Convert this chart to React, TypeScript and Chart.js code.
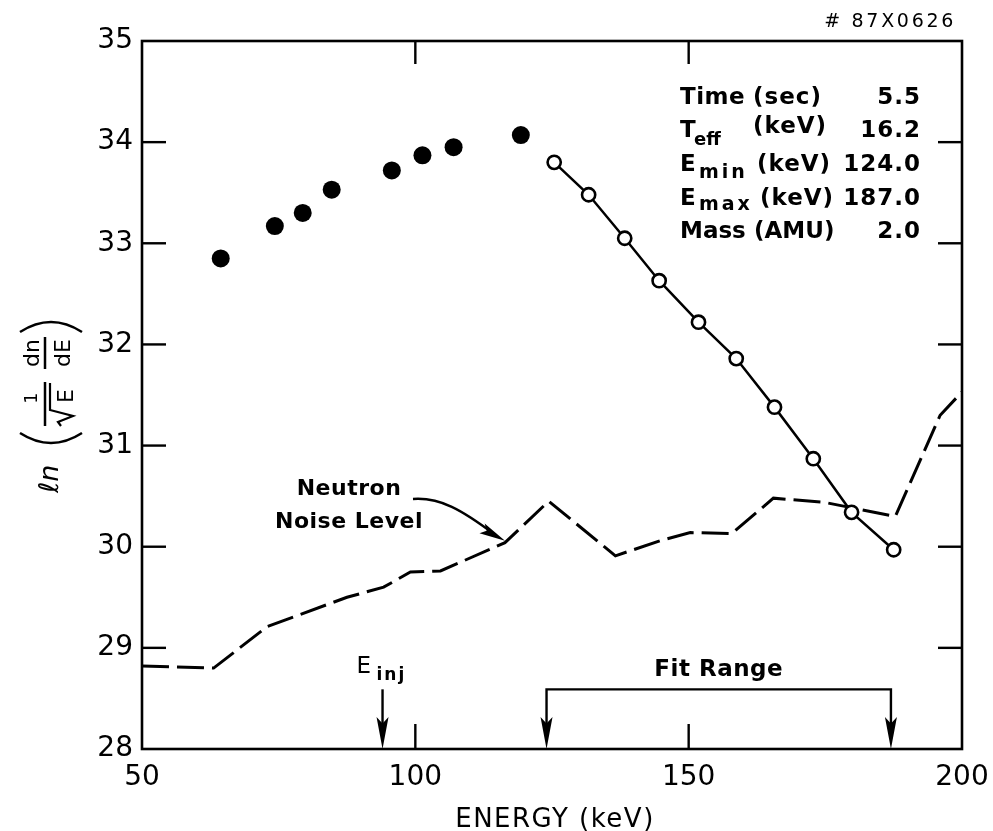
import React, { useEffect, useRef } from "react";
import { Chart, registerables } from "chart.js";

Chart.register(...registerables);

const FONT = '"DejaVu Sans", "Liberation Sans", sans-serif';

// Spectrum points below the fit range (filled circles)
const lowEnergyKeV = [64.4, 74.3, 79.4, 84.7, 95.7, 101.3, 107.0, 119.3];
const lowLnF = [32.85, 33.17, 33.3, 33.53, 33.72, 33.87, 33.95, 34.07];

// Spectrum points inside the fit range (open circles joined by the fit)
const fitEnergyKeV = [125.4, 131.7, 138.3, 144.6, 151.8, 158.7, 165.7, 172.8, 179.8, 187.5];
const fitLnF = [33.8, 33.48, 33.05, 32.63, 32.22, 31.86, 31.38, 30.87, 30.34, 29.97];

// Neutron noise level (dashed)
const noiseEnergyKeV = [50, 63.1, 72.9, 87.5, 94.2, 99.1, 104.6, 116.4, 124.4, 136.6, 144.8, 150.3, 157.9, 165.5, 174.7, 187.8, 196.0, 200];
const noiseLnF = [28.82, 28.8, 29.21, 29.5, 29.6, 29.75, 29.76, 30.04, 30.45, 29.91, 30.06, 30.14, 30.13, 30.48, 30.44, 30.3, 31.3, 31.53];

// Axis ticks
const xTickValues = [50, 100, 150, 200];
const yTickValues = [28, 29, 30, 31, 32, 33, 34, 35];

// Fit summary block
const infoNames = ["Time", "T", "E", "E", "Mass"];
const infoSubs = ["", "eff", "min", "max", ""];
const infoUnits = ["(sec)", "(keV)", "(keV)", "(keV)", "(AMU)"];
const infoValues = [5.5, 16.2, 124.0, 187.0, 2.0];

const E_MIN = infoValues[2];
const E_MAX = infoValues[3];
const E_INJ = 94;
const NOISE_POINTER = { x: 116.4, y: 30.04 };

function line(ctx: CanvasRenderingContext2D, x1: number, y1: number, x2: number, y2: number) {
  ctx.beginPath();
  ctx.moveTo(x1, y1);
  ctx.lineTo(x2, y2);
  ctx.stroke();
}

function arrowHead(ctx: CanvasRenderingContext2D, tipX: number, tipY: number, angle: number, len: number, half: number) {
  const c = Math.cos(angle);
  const s = Math.sin(angle);
  const bx = tipX - c * len;
  const by = tipY - s * len;
  const mx = tipX - c * len * 0.8;
  const my = tipY - s * len * 0.8;
  ctx.beginPath();
  ctx.moveTo(tipX, tipY);
  ctx.lineTo(bx - s * half, by + c * half);
  ctx.lineTo(mx, my);
  ctx.lineTo(bx + s * half, by - c * half);
  ctx.closePath();
  ctx.fill();
}

function setSpacing(ctx: CanvasRenderingContext2D, px: number) {
  (ctx as any).letterSpacing = `${px}px`;
}

const decorPlugin = {
  id: "figureDecor",
  afterDraw(chart: any) {
    const { ctx, chartArea: a, scales } = chart;
    const x = scales.x;
    const y = scales.y;
    ctx.save();
    ctx.strokeStyle = "#000";
    ctx.fillStyle = "#000";
    ctx.lineCap = "butt";

    // frame
    ctx.lineWidth = 2.6;
    ctx.strokeRect(a.left, a.top, a.right - a.left, a.bottom - a.top);

    // inward tick marks
    ctx.lineWidth = 2.4;
    yTickValues.slice(1, -1).forEach((v) => {
      const py = y.getPixelForValue(v);
      line(ctx, a.left, py, a.left + 24, py);
      line(ctx, a.right, py, a.right - 24, py);
    });
    xTickValues.slice(1, -1).forEach((v) => {
      const px = x.getPixelForValue(v);
      line(ctx, px, a.top, px, a.top + 23);
      line(ctx, px, a.bottom, px, a.bottom - 25);
    });

    // x axis title
    ctx.font = `26px ${FONT}`;
    setSpacing(ctx, 1.5);
    ctx.textAlign = "center";
    ctx.textBaseline = "alphabetic";
    ctx.fillText("ENERGY (keV)", (a.left + a.right) / 2 + 3, 827);

    // figure number
    ctx.font = `19px ${FONT}`;
    setSpacing(ctx, 2.7);
    ctx.textAlign = "right";
    ctx.fillText("# 87X0626", 956, 27);

    // y axis title:  ln( 1/sqrt(E) dn/dE )
    ctx.save();
    ctx.translate(51, 400);
    ctx.rotate(-Math.PI / 2);
    setSpacing(ctx, 0);
    ctx.textAlign = "left";
    ctx.font = `italic 27px ${FONT}`;
    ctx.fillText("\u2113n", -93, 7);
    ctx.lineWidth = 2.5;
    ctx.beginPath();
    ctx.moveTo(-33, -31);
    ctx.quadraticCurveTo(-53, 0, -33, 31);
    ctx.stroke();
    ctx.beginPath();
    ctx.moveTo(68, -31);
    ctx.quadraticCurveTo(88, 0, 68, 31);
    ctx.stroke();
    ctx.textAlign = "center";
    ctx.font = `17px ${FONT}`;
    ctx.fillText("1", 2, -14);
    line(ctx, -26, -6, 18, -6);
    ctx.lineWidth = 2.2;
    ctx.beginPath();
    ctx.moveTo(-26, 10);
    ctx.lineTo(-22, 7);
    ctx.lineTo(-16, 22);
    ctx.lineTo(-10, -1);
    ctx.lineTo(17, -1);
    ctx.stroke();
    ctx.font = `22px ${FONT}`;
    ctx.fillText("E", 4, 22);
    ctx.fillText("dn", 47, -12);
    ctx.lineWidth = 2.5;
    line(ctx, 31, -6, 63, -6);
    ctx.fillText("dE", 47, 19);
    ctx.restore();

    // fit summary block
    const valueRight = a.right - 41;
    const nameLeft = 680;
    const unitLeft = [753, 753, 757, 760, 754];
    const unitShift = [0, -4, 0, 0, 0];
    const subShift = [0, 8, 7, 5, 0];
    const subLeft = [0, 694, 699, 699, 0];
    infoNames.forEach((name, i) => {
      const base = 103.5 + i * 33.7;
      ctx.textAlign = "left";
      ctx.font = `bold 23px ${FONT}`;
      setSpacing(ctx, i === 4 ? 0 : 0.5);
      ctx.fillText(name, nameLeft, base);
      if (infoSubs[i]) {
        ctx.font = i === 1 ? `bold 18px ${FONT}` : `bold 19px ${FONT}`;
        setSpacing(ctx, i === 1 ? 0 : 3);
        ctx.fillText(infoSubs[i], subLeft[i], base + subShift[i]);
      }
      ctx.font = `bold 23px ${FONT}`;
      setSpacing(ctx, i === 4 ? 0 : 1);
      ctx.fillText(infoUnits[i], unitLeft[i], base + unitShift[i]);
      setSpacing(ctx, 1);
      ctx.textAlign = "right";
      ctx.fillText(infoValues[i].toFixed(1), valueRight, base);
    });

    // neutron noise annotation
    ctx.font = `bold 22px ${FONT}`;
    setSpacing(ctx, 0.5);
    ctx.textAlign = "center";
    ctx.fillText("Neutron", 349, 495);
    ctx.fillText("Noise Level", 349, 528);
    const tipX = x.getPixelForValue(NOISE_POINTER.x);
    const tipY = y.getPixelForValue(NOISE_POINTER.y) - 2;
    ctx.lineWidth = 2.4;
    ctx.beginPath();
    ctx.moveTo(413, 499);
    ctx.bezierCurveTo(440, 497, 462, 510, tipX - 10, tipY - 6);
    ctx.stroke();
    arrowHead(ctx, tipX, tipY, Math.atan2(15, 28), 26, 5.5);

    // injection energy marker
    const bracketY = y.getPixelForValue(28.59);
    const injX = x.getPixelForValue(E_INJ);
    ctx.lineWidth = 2.4;
    line(ctx, injX, bracketY, injX, a.bottom - 20);
    arrowHead(ctx, injX, a.bottom, Math.PI / 2, 32, 6);
    ctx.textAlign = "left";
    ctx.font = `23px ${FONT}`;
    setSpacing(ctx, 0);
    ctx.fillText("E", injX - 26, bracketY - 16);
    ctx.font = `bold 17px ${FONT}`;
    setSpacing(ctx, 2);
    ctx.fillText("inj", injX - 6, bracketY - 9);

    // fit range bracket
    const fx1 = x.getPixelForValue(E_MIN);
    const fx2 = x.getPixelForValue(E_MAX);
    ctx.lineWidth = 2.4;
    ctx.beginPath();
    ctx.moveTo(fx1, a.bottom - 20);
    ctx.lineTo(fx1, bracketY);
    ctx.lineTo(fx2, bracketY);
    ctx.lineTo(fx2, a.bottom - 20);
    ctx.stroke();
    arrowHead(ctx, fx1, a.bottom, Math.PI / 2, 32, 6);
    arrowHead(ctx, fx2, a.bottom, Math.PI / 2, 32, 6);
    ctx.textAlign = "center";
    ctx.font = `bold 23px ${FONT}`;
    setSpacing(ctx, 0.5);
    ctx.fillText("Fit Range", (fx1 + fx2) / 2, bracketY - 13);

    ctx.restore();
  },
};

export default function App() {
  const canvasRef = useRef<HTMLCanvasElement | null>(null);

  useEffect(() => {
    const canvas = canvasRef.current;
    if (!canvas) return;
    const tickFont = { family: FONT, size: 28 };
    const chart = new Chart(canvas, {
      type: "scatter",
      data: {
        datasets: [
          {
            label: "fit range",
            data: fitEnergyKeV.map((e, i) => ({ x: e, y: fitLnF[i] })),
            showLine: true,
            borderColor: "#000",
            borderWidth: 2.5,
            pointRadius: 6.6,
            pointBorderWidth: 2.6,
            pointBackgroundColor: "#fff",
            pointBorderColor: "#000",
            order: 0,
          },
          {
            label: "below fit range",
            data: lowEnergyKeV.map((e, i) => ({ x: e, y: lowLnF[i] })),
            showLine: false,
            pointRadius: 9,
            pointBorderWidth: 0,
            pointBackgroundColor: "#000",
            pointBorderColor: "#000",
            order: 1,
          },
          {
            label: "neutron noise level",
            data: noiseEnergyKeV.map((e, i) => ({ x: e, y: noiseLnF[i] })),
            showLine: true,
            borderColor: "#000",
            borderWidth: 3,
            borderDash: [27, 8],
            pointRadius: 0,
            order: 2,
          },
        ],
      },
      options: {
        responsive: false,
        animation: false,
        events: [],
        layout: { padding: { left: 0, top: 41, right: 31, bottom: 0 } },
        plugins: { legend: { display: false }, tooltip: { enabled: false } },
        scales: {
          x: {
            type: "linear",
            min: 50,
            max: 200,
            afterFit: (s: any) => {
              s.height = 82;
              s.paddingLeft = 0;
              s.paddingRight = 0;
            },
            afterBuildTicks: (s: any) => {
              s.ticks = xTickValues.map((v) => ({ value: v }));
            },
            grid: { display: false, drawTicks: false },
            border: { display: false },
            ticks: { font: tickFont, color: "#000", padding: 12, maxRotation: 0, autoSkip: false },
          },
          y: {
            type: "linear",
            min: 28,
            max: 35,
            afterFit: (s: any) => {
              s.width = 142;
              s.paddingTop = 0;
              s.paddingBottom = 0;
            },
            afterBuildTicks: (s: any) => {
              s.ticks = yTickValues.map((v) => ({ value: v }));
            },
            grid: { display: false, drawTicks: false },
            border: { display: false },
            ticks: { font: tickFont, color: "#000", padding: 9, autoSkip: false },
          },
        },
      },
      plugins: [decorPlugin],
    });
    return () => chart.destroy();
  }, []);

  return (
    <div style={{ position: "fixed", left: 0, top: 0, width: 993, height: 831, background: "#fff" }}>
      <canvas ref={canvasRef} width={993} height={831} style={{ display: "block" }} />
    </div>
  );
}
